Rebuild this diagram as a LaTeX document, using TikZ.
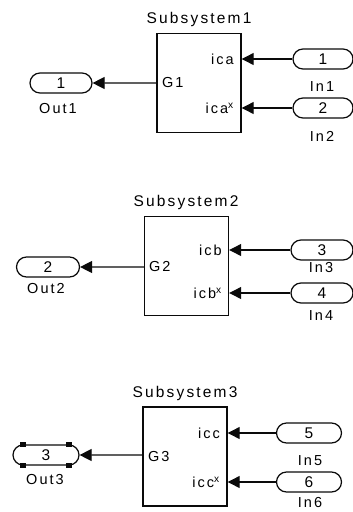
\documentclass[tikz,border=0pt]{standalone}
\usepackage{fontspec}
\setmainfont{Liberation Sans}
\newfontfamily\simfont{Liberation Sans}[LetterSpace=14]
\usepackage{tikz}
\usetikzlibrary{shapes.misc, arrows.meta, positioning, calc}
\definecolor{simblack}{RGB}{10,10,10}
\tikzset{
  subsys/.style={rectangle, draw=simblack, line width=1.4pt,
    minimum width=84pt, minimum height=99pt, inner sep=0pt},
  portio/.style={rounded rectangle, draw=simblack, line width=1.2pt,
    minimum width=60pt, minimum height=20pt, inner sep=0pt,
    font=\simfont\fontsize{15.5}{16}\selectfont},
  lbl/.style={font=\simfont\fontsize{14.5}{15}\selectfont, inner sep=1pt},
  ttl/.style={font=\simfont\fontsize{15.5}{16}\selectfont, inner sep=1pt},
  handle/.style={rectangle, fill=simblack, minimum size=5.5pt, inner sep=0pt},
  sig/.style={-{Triangle[length=12pt,width=12pt]}, line width=1.2pt, color=simblack}
}

\begin{document}
\begin{tikzpicture}[x=1pt, y=-1pt]
  \useasboundingbox (0,0) rectangle (353,512);

  % Subsystem1
  \node[subsys] (sub1) at (199,83) {};
  \node[ttl] (t1) at (199,19) {Subsystem1};
  \node[lbl, anchor=east] (p1a) at (235,59) {ica};
  \node[lbl, anchor=east] (p1b) at (235,108) {ica$^{\mathrm{x}}$};
  \node[lbl, anchor=west] (g1) at (161,83) {G1};
  \node[portio] (in1) at (323,59) {1};
  \node[lbl] (lin1) at (322,87) {In1};
  \node[portio] (in2) at (323,108) {2};
  \node[lbl] (lin2) at (322,136) {In2};
  \node[portio, minimum width=62pt] (out1) at (61,83) {1};
  \node[lbl] (lout1) at (58,109) {Out1};

  \draw[sig] (in1) -- (in1 -| sub1.east);
  \draw[sig] (in2) -- (in2 -| sub1.east);
  \draw[sig] (out1 -| sub1.west) -- (out1);

  % Subsystem2
  \node[subsys] (sub2) at (186.5,266) {};
  \node[ttl] (t2) at (186,202) {Subsystem2};
  \node[lbl, anchor=east] (p2a) at (223,250) {icb};
  \node[lbl, anchor=east] (p2b) at (223,293) {icb$^{\mathrm{x}}$};
  \node[lbl, anchor=west] (g2) at (148,267) {G2};
  \node[portio, minimum width=62pt] (in3) at (322,250) {3};
  \node[lbl] (lin3) at (321,268) {In3};
  \node[portio, minimum width=62pt] (in4) at (322,293) {4};
  \node[lbl] (lin4) at (321,316) {In4};
  \node[portio, minimum width=63pt] (out2) at (48,267) {2};
  \node[lbl] (lout2) at (46,289) {Out2};

  \draw[sig] (in3) -- (in3 -| sub2.east);
  \draw[sig] (in4) -- (in4 -| sub2.east);
  \draw[sig] (out2 -| sub2.west) -- (out2);

  % Subsystem3
  \node[subsys] (sub3) at (185,456.5) {};
  \node[ttl] (t3) at (185,393) {Subsystem3};
  \node[lbl, anchor=east] (p3a) at (221,433) {icc};
  \node[lbl, anchor=east] (p3b) at (221,482) {icc$^{\mathrm{x}}$};
  \node[lbl, anchor=west] (g3) at (147,457) {G3};
  \node[portio, minimum width=65pt] (in5) at (309,433) {5};
  \node[lbl] (lin5) at (310,461) {In5};
  \node[portio, minimum width=65pt] (in6) at (309,482) {6};
  \node[lbl] (lin6) at (310,503) {In6};
  \node[portio, minimum width=66pt] (out3) at (46,455) {3};
  \node[lbl] (lout3) at (45,480) {Out3};

  \draw[sig] (in5) -- (in5 -| sub3.east);
  \draw[sig] (in6) -- (in6 -| sub3.east);
  \draw[sig] (out3 -| sub3.west) -- (out3);

  % selection handles
  \foreach \c in {north west, north east, south west, south east}
    \node[handle] at (out3.\c) {};
\end{tikzpicture}
\end{document}
